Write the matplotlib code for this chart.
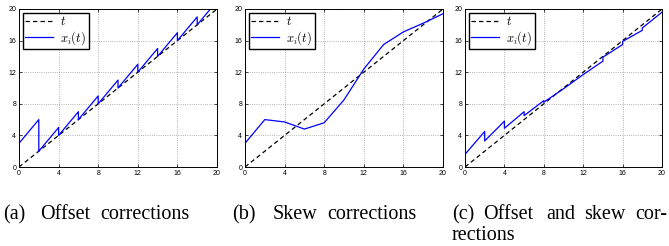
import matplotlib
matplotlib.use("Agg")
import matplotlib.pyplot as plt

plt.rcParams['mathtext.fontset'] = 'cm'
plt.rcParams['font.family'] = ['Liberation Sans', 'DejaVu Sans']

ref_t = [0, 20]

# (a) offset corrections: sawtooth with a jump at every sync instant
off_t = [0, 2, 2, 4, 4, 6, 6, 8, 8, 10, 10, 12, 12, 14, 14, 16, 16, 18, 18, 20]
off_x = [3, 6, 2, 5, 4, 7, 6, 9, 8, 11, 10, 13, 12, 15, 14, 17, 16, 19, 18, 21]

# (b) skew corrections
skew_t = [0, 2, 4, 6, 8, 10, 12, 14, 16, 18, 20]
skew_x = [3, 6, 5.7, 4.8, 5.6, 8.5, 12.4, 15.5, 17.1, 18.2, 19.4]

# (c) offset and skew corrections
both_t = [0, 0, 2, 2, 4, 4, 6, 6, 8, 8, 10, 12, 14, 14, 16, 16, 18, 18, 20]
both_x = [2.8, 1.6, 4.5, 3.3, 5.8, 4.9, 7.0, 6.5, 8.4, 8.2, 9.9, 11.7, 13.4, 13.9,
          15.5, 15.9, 17.3, 17.6, 19.6]

ticks = [0, 4, 8, 12, 16, 20]

fig = plt.figure(figsize=(6.69, 2.46), dpi=100)

boxes = [(19, 198), (245, 198), (465, 197)]
series = [(off_t, off_x), (skew_t, skew_x), (both_t, both_x)]

for (left, w), (tt, xx) in zip(boxes, series):
    ax = fig.add_axes([left / 669, 79 / 246, w / 669, 158 / 246])
    ax.plot(ref_t, ref_t, 'k--', lw=0.9, dashes=(3.5, 2.5), label='$t$')
    ax.plot(tt, xx, color='#0000ff', lw=0.9, label='$x_i(t)$')
    ax.set_xlim(0, 20)
    ax.set_ylim(0, 20)
    ax.set_xticks(ticks)
    ax.set_yticks(ticks)
    ax.grid(True, linestyle=':', color='#999999', lw=0.6)
    ax.tick_params(direction='in', length=2.5, width=0.5, labelsize=5,
                   top=True, right=True, pad=2)
    for sp in ax.spines.values():
        sp.set_linewidth(0.7)
    leg = ax.legend(loc='upper left', fontsize=9, fancybox=False,
                    framealpha=1, edgecolor='black', borderpad=0.2,
                    handlelength=2.2, handletextpad=0.6, labelspacing=0.05,
                    borderaxespad=0.3)
    leg.get_frame().set_linewidth(1.0)

# captions, placed word by word like the justified text of the paper
cap_font = dict(family='Liberation Serif', fontsize=14.5, va='baseline')
words = [
    ("(a)", 3, 219), ("Offset", 40, 219), ("corrections", 100, 219),
    ("(b)", 232, 219), ("Skew", 273, 219), ("corrections", 327, 219),
    ("(c)", 452, 219), ("Offset", 483, 219), ("and", 546, 219),
    ("skew", 584, 219), ("cor-", 635, 219), ("rections", 452, 240),
]
for s, x, y in words:
    fig.text(x / 669, 1 - y / 246, s, **cap_font)

fig.savefig('out.png', dpi=100)
